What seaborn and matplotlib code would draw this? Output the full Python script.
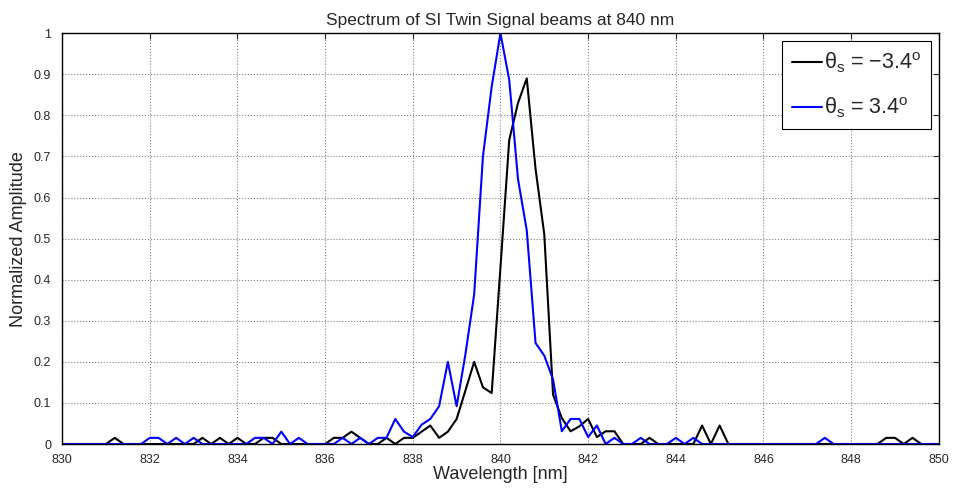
import matplotlib
matplotlib.use('Agg')
import matplotlib.pyplot as plt
import numpy as np
import pandas as pd
import seaborn as sns

# wavelength sampling grid of the spectrometer (0.2 nm steps)
wavelength = np.round(np.linspace(830, 850, 101), 1)

# theta_s = -3.4 deg (black)
amp_neg = [0, 0, 0, 0, 0, 0, 0.015, 0, 0, 0,
           0, 0, 0, 0, 0, 0, 0.015, 0, 0.015, 0,
           0.015, 0, 0, 0.015, 0.015, 0, 0, 0, 0, 0,
           0, 0.015, 0.015, 0.03, 0.015, 0, 0, 0.015, 0, 0.015,
           0.015, 0.03, 0.045, 0.015, 0.03, 0.061, 0.13, 0.2, 0.138, 0.124,
           0.43, 0.74, 0.83, 0.89, 0.67, 0.51, 0.12, 0.063, 0.031, 0.043,
           0.061, 0.017, 0.031, 0.031, 0, 0, 0, 0.015, 0, 0,
           0, 0, 0, 0.045, 0, 0.045, 0, 0, 0, 0,
           0, 0, 0, 0, 0, 0, 0, 0, 0, 0,
           0, 0, 0, 0, 0.015, 0.015, 0, 0.015, 0, 0,
           0]

# theta_s = 3.4 deg (blue)
amp_pos = [0, 0, 0, 0, 0, 0, 0, 0, 0, 0,
           0.015, 0.015, 0, 0.015, 0, 0.015, 0, 0, 0, 0,
           0, 0, 0.015, 0.015, 0, 0.03, 0, 0.015, 0, 0,
           0, 0, 0.015, 0, 0.015, 0, 0.015, 0.015, 0.061, 0.03,
           0.017, 0.047, 0.061, 0.092, 0.2, 0.092, 0.218, 0.364, 0.70, 0.87,
           1.0, 0.886, 0.645, 0.52, 0.246, 0.215, 0.157, 0.031, 0.061, 0.061,
           0.017, 0.045, 0, 0.015, 0, 0, 0.015, 0, 0, 0,
           0.015, 0, 0.015, 0, 0, 0, 0, 0, 0, 0,
           0, 0, 0, 0, 0, 0, 0, 0.015, 0, 0,
           0, 0, 0, 0, 0, 0, 0, 0, 0, 0,
           0]

labels = [r'θ$_{\rm s}$ = −3.4$^{\rm o}$', r'θ$_{\rm s}$ = 3.4$^{\rm o}$']
colors = ['black', 'blue']

df = pd.concat([
    pd.DataFrame({'wl': wavelength, 'amp': amp_neg, 'beam': labels[0]}),
    pd.DataFrame({'wl': wavelength, 'amp': amp_pos, 'beam': labels[1]}),
])

sns.set_style('white')
plt.rcParams.update({'font.family': ['Liberation Sans', 'DejaVu Sans'],
                     'mathtext.fontset': 'custom',
                     'mathtext.rm': 'Liberation Sans',
                     'mathtext.it': 'Liberation Sans:italic',
                     'axes.linewidth': 1.0})

fig = plt.figure(figsize=(9.56, 4.95), dpi=100)
ax = fig.add_axes([0.065, 0.103, 0.917, 0.830])

sns.lineplot(ax=ax, data=df, x='wl', y='amp', hue='beam',
             palette=dict(zip(labels, colors)), linewidth=1.5)

ax.set_xlim(830, 850)
ax.set_ylim(0, 1)
ax.set_xticks(np.arange(830, 851, 2))
ax.set_yticks(np.round(np.arange(0, 1.01, 0.1), 1))
ax.set_yticklabels(['0'] + ['%.1f' % v for v in np.arange(0.1, 0.95, 0.1)] + ['1'])
ax.tick_params(direction='in', top=True, right=True, labelsize=9, length=4, width=0.8)
ax.tick_params(axis='x', pad=7)
ax.tick_params(axis='y', pad=8)
ax.grid(True, linestyle=':', color='#808080', linewidth=0.8)
for s in ax.spines.values():
    s.set_color('black')

ax.set_xlabel('Wavelength [nm]', fontsize=13, labelpad=0)
ax.set_ylabel('Normalized Amplitude', fontsize=13, labelpad=5)
ax.set_title('Spectrum of SI Twin Signal beams at 840 nm', fontsize=12.5, pad=6)

leg = ax.legend(loc='upper right', fontsize=15.5, handlelength=1.4, handletextpad=0.1,
                borderaxespad=0.35, fancybox=False, framealpha=1, edgecolor='black',
                labelspacing=0.95, borderpad=0.45)
leg.get_frame().set_linewidth(0.8)

fig.savefig('out.png', dpi=100)
